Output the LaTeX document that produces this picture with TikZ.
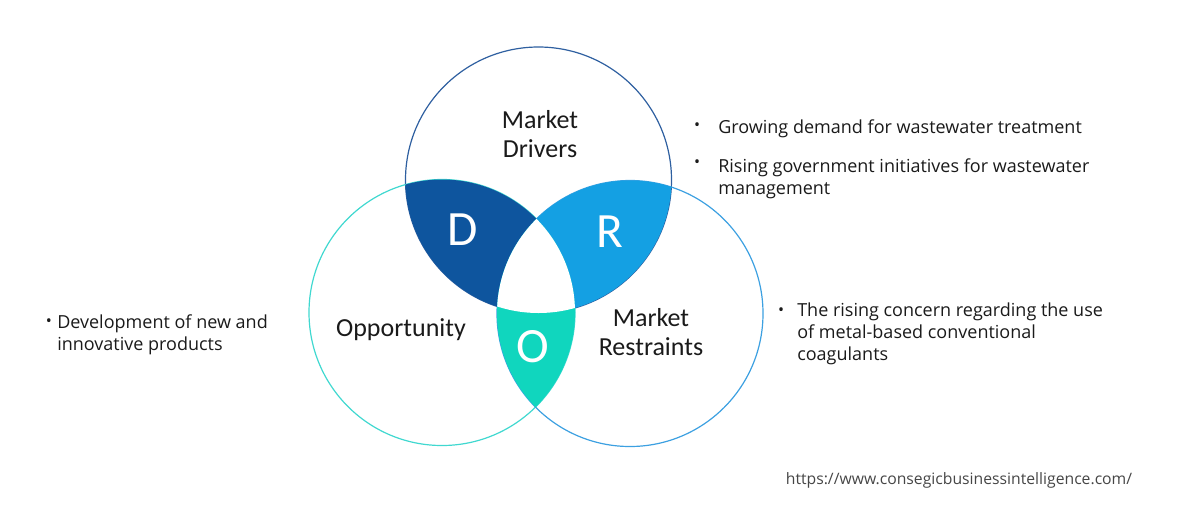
\documentclass[tikz,border=0pt]{standalone}
\usepackage{fontspec}
\setmainfont{Open Sans}
\newfontfamily\vennfont{Carlito}
\usepackage{xcolor}
\definecolor{driverline}{RGB}{46, 95, 160}
\definecolor{oppline}{RGB}{64, 216, 208}
\definecolor{restline}{RGB}{60, 160, 225}
\definecolor{dfill}{RGB}{14, 85, 158}
\definecolor{rfill}{RGB}{20, 160, 227}
\definecolor{ofill}{RGB}{16, 214, 190}
\definecolor{textblack}{RGB}{26, 26, 26}
\definecolor{urlgray}{RGB}{70, 70, 70}

\begin{document}
\begin{tikzpicture}[x=0.75pt, y=-0.75pt,
  venntitle/.style={font=\vennfont\fontsize{19.5}{22}\selectfont, align=center, text=textblack},
  vennletter/.style={font=\vennfont\fontsize{37}{40}\selectfont, text=white},
  bullettext/.style={anchor=west, align=left, inner sep=0pt, text=textblack, font=\fontsize{13.5}{16.5}\selectfont},
  bulletdot/.style={inner sep=0pt, text=textblack, font=\fontsize{12}{14}\selectfont}]
\useasboundingbox (0,0) rectangle (1177,508);

% circle centres
\coordinate (drv) at (538.5,180);
\coordinate (opp) at (442,312.5);
\coordinate (rst) at (630,313.5);

% outlines
\draw[driverline, line width=0.9pt] (drv) circle (99.75pt);
\draw[oppline, line width=0.9pt] (opp) circle (99.75pt);
\draw[restline, line width=0.9pt] (rst) circle (99.75pt);

% overlaps
\begin{scope}
  \clip (drv) circle (99.75pt);
  \fill[dfill] (opp) circle (99.75pt);
  \fill[rfill] (rst) circle (99.75pt);
\end{scope}
\begin{scope}
  \clip (opp) circle (99.75pt);
  \fill[ofill] (rst) circle (99.75pt);
  \clip (drv) circle (99.75pt);
  \fill[white] (rst) circle (99.75pt);
\end{scope}

% labels
\node[venntitle] (drvtitle) at (540,134) {Market\\Drivers};
\node[venntitle] (opptitle) at (401,330) {Opportunity};
\node[venntitle] (rsttitle) at (651,332) {Market\\Restraints};
\node[vennletter] (dletter) at (463,230) {D};
\node[vennletter] (rletter) at (610,232) {R};
\node[vennletter] (oletter) at (533,347) {O};

% bullet points
\node[bulletdot] (dot1) at (697,127) {•};
\node[bullettext] (drv1) at (718,129) {Growing demand for wastewater treatment};
\node[bulletdot] (dot2) at (697,164) {•};
\node[bullettext] (drv2) at (718,179) {Rising government initiatives for wastewater\\management};
\node[bulletdot] (dot3) at (49,323) {•};
\node[bullettext] (opp1) at (57,335) {Development of new and\\innovative products};
\node[bulletdot] (dot4) at (781,312) {•};
\node[bullettext] (rst1) at (797,334) {The rising concern regarding the use\\of metal-based conventional\\coagulants};

\node[font=\fontsize{11.8}{14}\selectfont, text=urlgray] (url) at (959,480) {https://www.consegicbusinessintelligence.com/};
\end{tikzpicture}
\end{document}
